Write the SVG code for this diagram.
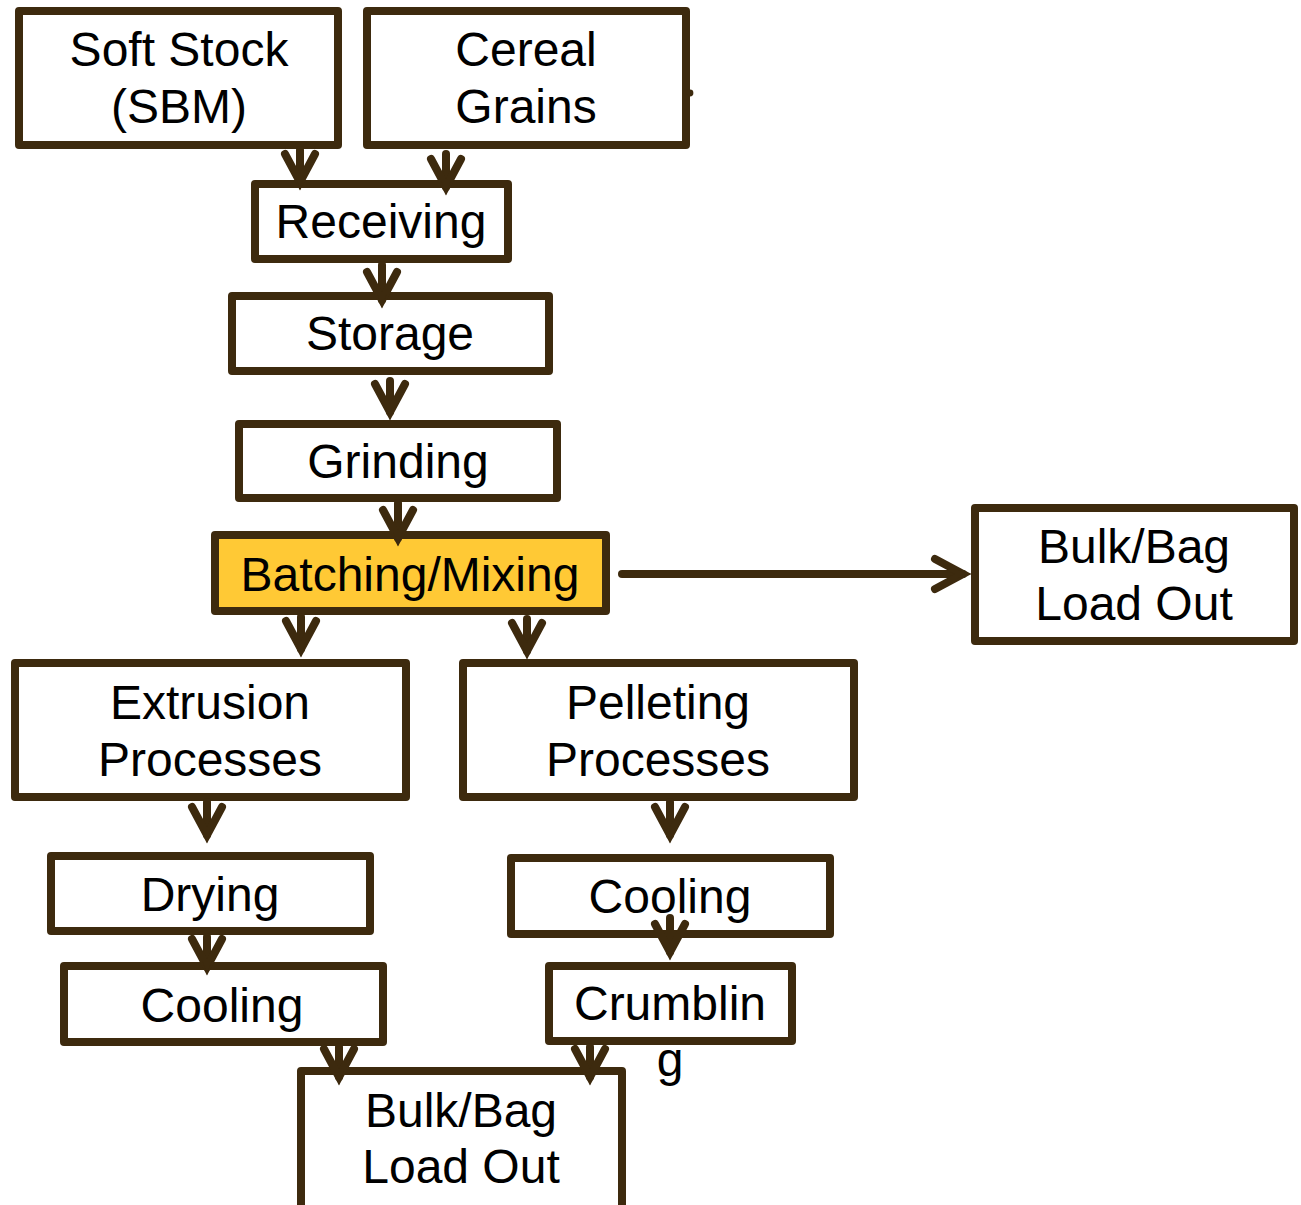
<svg xmlns="http://www.w3.org/2000/svg" width="1301" height="1205" viewBox="0 0 1301 1205">
  <style>
    .box { fill: #ffffff; stroke: #3d2a0e; stroke-width: 8; stroke-linejoin: round; }
    .hl { fill: #ffc935; }
    .lbl { font-family: "Liberation Sans", Arial, sans-serif; font-size: 48px; fill: #000000; text-anchor: middle; }
    .flow line { stroke: #3d2a0e; stroke-width: 8; stroke-linecap: round; marker-end: url(#chev); }
  </style>
  <defs>
    <marker id="chev" markerUnits="userSpaceOnUse" markerWidth="60" markerHeight="60" refX="0" refY="0" orient="auto" overflow="visible" viewBox="-40 -30 60 60">
      <path d="M-28,-15 L0,0 L-28,15" fill="none" stroke="#3d2a0e" stroke-width="8" stroke-linecap="round" stroke-linejoin="miter"/>
      <path d="M-6,-4.5 L8,0 L-6,4.5 Z" fill="#3d2a0e"/>
    </marker>
  </defs>
  <rect width="1301" height="1205" fill="#ffffff"/>

  <g id="soft-stock">
    <rect class="box" x="19" y="11" width="319" height="134"/>
    <text class="lbl" x="179" y="66">Soft Stock</text>
    <text class="lbl" x="179" y="123">(SBM)</text>
  </g>
  <g id="cereal-grains">
    <rect class="box" x="367" y="11" width="319" height="134"/>
    <circle cx="690" cy="93" r="3.4" fill="#3d2a0e"/>
    <text class="lbl" x="526" y="66">Cereal</text>
    <text class="lbl" x="526" y="123">Grains</text>
  </g>
  <g id="receiving">
    <rect class="box" x="255" y="184" width="253" height="75"/>
    <text class="lbl" x="381" y="238">Receiving</text>
  </g>
  <g id="storage">
    <rect class="box" x="232" y="296" width="317" height="75"/>
    <text class="lbl" x="390" y="350">Storage</text>
  </g>
  <g id="grinding">
    <rect class="box" x="239" y="424" width="318" height="74"/>
    <text class="lbl" x="398" y="478">Grinding</text>
  </g>
  <g id="batching-mixing">
    <rect class="box hl" x="215" y="535" width="391" height="76"/>
    <text class="lbl" x="410" y="591">Batching/Mixing</text>
  </g>
  <g id="load-out-bulk">
    <rect class="box" x="975" y="508" width="319" height="133"/>
    <text class="lbl" x="1134" y="563">Bulk/Bag</text>
    <text class="lbl" x="1134" y="620">Load Out</text>
  </g>
  <g id="extrusion">
    <rect class="box" x="15" y="663" width="391" height="134"/>
    <text class="lbl" x="210" y="719">Extrusion</text>
    <text class="lbl" x="210" y="776">Processes</text>
  </g>
  <g id="pelleting">
    <rect class="box" x="463" y="663" width="391" height="134"/>
    <text class="lbl" x="658" y="719">Pelleting</text>
    <text class="lbl" x="658" y="776">Processes</text>
  </g>
  <g id="drying">
    <rect class="box" x="51" y="856" width="319" height="75"/>
    <text class="lbl" x="210" y="911">Drying</text>
  </g>
  <g id="cooling-pellet">
    <rect class="box" x="511" y="858" width="319" height="76"/>
    <text class="lbl" x="670" y="913">Cooling</text>
  </g>
  <g id="cooling-extrusion">
    <rect class="box" x="64" y="966" width="319" height="76"/>
    <text class="lbl" x="222" y="1022">Cooling</text>
  </g>
  <g id="crumbling">
    <rect class="box" x="549" y="966" width="243" height="75"/>
    <text class="lbl" x="670" y="1020">Crumblin</text>
    <text class="lbl" x="670" y="1076">g</text>
  </g>
  <g id="load-out-final">
    <rect class="box" x="301" y="1071" width="321" height="150"/>
    <text class="lbl" x="461" y="1127">Bulk/Bag</text>
    <text class="lbl" x="461" y="1183">Load Out</text>
  </g>

  <g id="connectors" class="flow">
    <line x1="300" y1="150" x2="300" y2="182"/>
    <line x1="446" y1="154" x2="446" y2="187"/>
    <line x1="382" y1="265" x2="382" y2="300"/>
    <line x1="390" y1="381" x2="390" y2="412"/>
    <line x1="398" y1="503" x2="398" y2="538"/>
    <line x1="622" y1="574" x2="963" y2="574"/>
    <line x1="301" y1="617" x2="301" y2="649"/>
    <line x1="527" y1="619" x2="527" y2="651"/>
    <line x1="207" y1="802" x2="207" y2="835"/>
    <line x1="670" y1="802" x2="670" y2="835"/>
    <line x1="207" y1="937" x2="207" y2="967"/>
    <line x1="670" y1="918" x2="670" y2="952"/>
    <line x1="339" y1="1047" x2="339" y2="1077"/>
    <line x1="590" y1="1047" x2="590" y2="1077"/>
  </g>
</svg>
